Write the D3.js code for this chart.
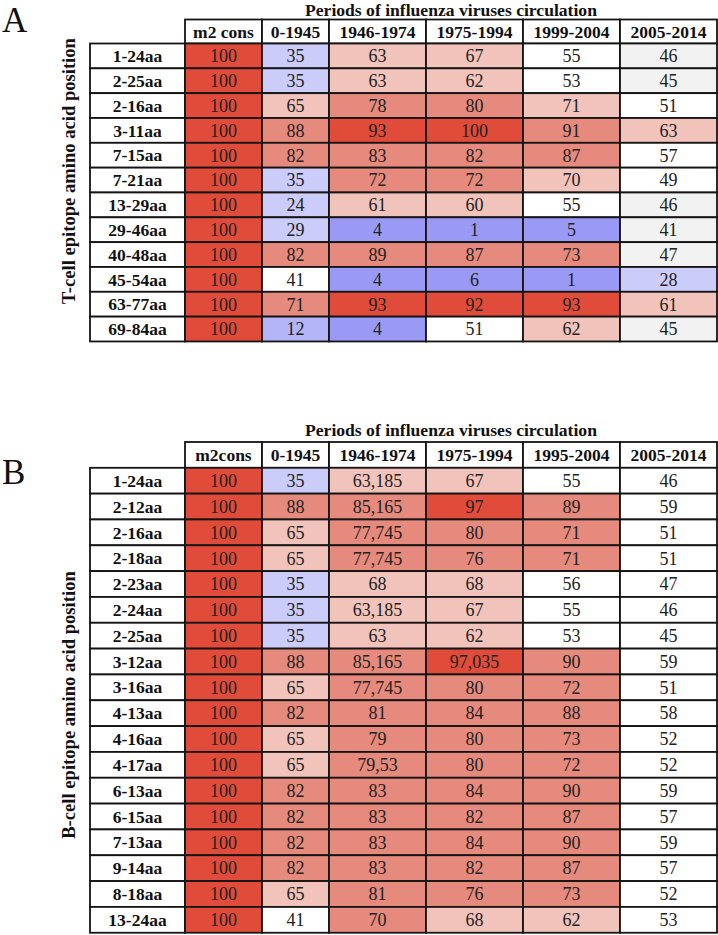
<!DOCTYPE html>
<html>
<head>
<meta charset="utf-8">
<script src="https://cdn.jsdelivr.net/npm/d3@7"></script>
<style>
  html, body { margin: 0; padding: 0; background: #fff; }
  svg { display: block; }
  text { font-family: "Liberation Serif", "Times New Roman", serif; }
</style>
</head>
<body>
<svg id="chart" width="718" height="935"></svg>
<script>
// ---------------- DATA ----------------
const periodTitle = "Periods of influenza viruses circulation";

// Panel A: T-cell epitopes
const tEpitopes = ["1-24aa","2-25aa","2-16aa","3-11aa","7-15aa","7-21aa","13-29aa","29-46aa","40-48aa","45-54aa","63-77aa","69-84aa"];
const tColumns = ["m2 cons","0-1945","1946-1974","1975-1994","1999-2004","2005-2014"];
const tM2cons   = [100,100,100,100,100,100,100,100,100,100,100,100];
const tP0_1945  = [35,35,65,88,82,35,24,29,82,41,71,12];
const tP1946_74 = [63,63,78,93,83,72,61,4,89,4,93,4];
const tP1975_94 = [67,62,80,100,82,72,60,1,87,6,92,51];
const tP1999_04 = [55,53,71,91,87,70,55,5,73,1,93,62];
const tP2005_14 = [46,45,51,63,57,49,46,41,47,28,61,45];

// Panel B: B-cell epitopes
const bEpitopes = ["1-24aa","2-12aa","2-16aa","2-18aa","2-23aa","2-24aa","2-25aa","3-12aa","3-16aa","4-13aa","4-16aa","4-17aa","6-13aa","6-15aa","7-13aa","9-14aa","8-18aa","13-24aa"];
const bColumns = ["m2cons","0-1945","1946-1974","1975-1994","1995-2004","2005-2014"];
const bM2cons   = [100,100,100,100,100,100,100,100,100,100,100,100,100,100,100,100,100,100];
const bP0_1945  = [35,88,65,65,35,35,35,88,65,82,65,65,82,82,82,82,65,41];
const bP1946_74 = [63.185,85.165,77.745,77.745,68,63.185,63,85.165,77.745,81,79,79.53,83,83,83,83,81,70];
const bP1975_94 = [67,97,80,76,68,67,62,97.035,80,84,80,80,84,82,84,82,76,68];
const bP1995_04 = [55,89,71,71,56,55,53,90,72,88,73,72,90,87,90,87,73,62];
const bP2005_14 = [46,59,51,51,47,46,45,59,51,58,52,52,59,57,59,57,52,53];

// ---------------- STYLE / LAYOUT ----------------
const C = {
  blue: "#9a9af6", midblue: "#b4b4f8", lav: "#ccccfa", gray: "#f2f2f2", white: "#ffffff",
  light: "#f1c3bb", med: "#e58a7c", dark: "#e04b3a"
};
const defaultScale = () => d3.scaleThreshold()
  .domain([10, 20, 40, 60, 70, 92])
  .range([C.blue, C.midblue, C.lav, C.white, C.light, C.med, C.dark]);

const colWidths = [95, 77, 67, 97, 97, 97, 97]; // label col + 6 data cols
const tableLeft = 90;
const xEdges = colWidths.reduce((acc, w) => (acc.push(acc[acc.length - 1] + w), acc), [tableLeft]);

const fmt = d3.formatLocale({decimal: ",", thousands: ".", grouping: [3], currency: ["", ""]}).format("~f");

const svg = d3.select("#chart");
const FONT_VAL = 18, FONT_HEAD = 17.5, FONT_LABEL = 17.5;
const STROKE = "#141414", SW = 1.8;

function drawTable(cfg) {
  const g = svg.append("g");
  const cols = cfg.columns;
  const x = d3.scaleOrdinal().domain(["__label"].concat(cols)).range(xEdges.slice(0, 7));
  const w = d3.scaleOrdinal().domain(["__label"].concat(cols)).range(colWidths);
  const bodyTop = cfg.headerTop + cfg.headerH;
  const y = d3.scaleBand().domain(cfg.rows).range([bodyTop, bodyTop + cfg.rows.length * cfg.rowH]).padding(0);

  // panel letter
  g.append("text").attr("x", 2).attr("y", cfg.letterY)
    .attr("font-size", 35).attr("fill", "#111").text(cfg.letter);

  // title
  g.append("text").attr("x", (xEdges[1] + xEdges[7]) / 2).attr("y", cfg.headerTop - cfg.titleGap)
    .attr("text-anchor", "middle").attr("font-size", 17.6).attr("font-weight", "bold")
    .attr("fill", "#111").text(periodTitle);

  // y-axis label
  g.append("text")
    .attr("transform", `translate(75,${cfg.labelCY}) rotate(-90)`)
    .attr("text-anchor", "middle").attr("font-size", 18.6).attr("font-weight", "bold")
    .attr("fill", "#111").text(cfg.axisLabel);

  // header cells
  const head = g.append("g").selectAll("g").data(cols).join("g");
  head.append("rect")
    .attr("x", d => x(d)).attr("y", cfg.headerTop)
    .attr("width", d => w(d)).attr("height", cfg.headerH)
    .attr("fill", "#fff").attr("stroke", STROKE).attr("stroke-width", SW);
  head.append("text")
    .attr("x", d => x(d) + w(d) / 2).attr("y", cfg.headerTop + cfg.headerH / 2)
    .attr("dy", "0.35em").attr("text-anchor", "middle")
    .attr("font-size", FONT_HEAD).attr("font-weight", "bold").attr("fill", "#111")
    .text(d => d);

  // row label cells
  const rl = g.append("g").selectAll("g").data(cfg.rows).join("g");
  rl.append("rect")
    .attr("x", x("__label")).attr("y", d => y(d))
    .attr("width", w("__label")).attr("height", y.bandwidth())
    .attr("fill", "#fff").attr("stroke", STROKE).attr("stroke-width", SW);
  rl.append("text")
    .attr("x", x("__label") + w("__label") / 2).attr("y", d => y(d) + y.bandwidth() / 2)
    .attr("dy", "0.35em").attr("text-anchor", "middle")
    .attr("font-size", FONT_LABEL).attr("font-weight", "bold").attr("fill", "#111")
    .text(d => d);

  // data cells
  const cells = [];
  cols.forEach((c, ci) => {
    const scale = cfg.scales[ci] || defaultScale();
    cfg.series[ci].forEach((v, ri) => cells.push({col: c, row: cfg.rows[ri], v, color: scale(v)}));
  });
  const cg = g.append("g").selectAll("g").data(cells).join("g");
  cg.append("rect")
    .attr("x", d => x(d.col)).attr("y", d => y(d.row))
    .attr("width", d => w(d.col)).attr("height", y.bandwidth())
    .attr("fill", d => d.color).attr("stroke", STROKE).attr("stroke-width", SW);
  cg.append("text")
    .attr("x", d => x(d.col) + w(d.col) / 2).attr("y", d => y(d.row) + y.bandwidth() / 2)
    .attr("dy", "0.35em").attr("text-anchor", "middle")
    .attr("font-size", FONT_VAL).attr("fill", "#222")
    .text(d => fmt(d.v));
}

drawTable({
  letter: "A", letterY: 32, headerTop: 19.5, headerH: 24, rowH: 24.83, titleGap: 4,
  labelCY: 171, axisLabel: "T-cell epitope amino acid position",
  rows: tEpitopes, columns: tColumns,
  series: [tM2cons, tP0_1945, tP1946_74, tP1975_94, tP1999_04, tP2005_14],
  scales: [null, null, null, null,
    d3.scaleThreshold().domain([10, 20, 40, 60, 72, 92]).range([C.blue, C.midblue, C.lav, C.white, C.light, C.med, C.dark]),
    d3.scaleThreshold().domain([10, 20, 40, 48, 60, 70, 92]).range([C.blue, C.midblue, C.lav, C.gray, C.white, C.light, C.med, C.dark])]
});

drawTable({
  letter: "B", letterY: 484, headerTop: 442, headerH: 25.8, rowH: 25.83, titleGap: 6,
  labelCY: 705, axisLabel: "B-cell epitope amino acid position",
  rows: bEpitopes, columns: bColumns,
  series: [bM2cons, bP0_1945, bP1946_74, bP1975_94, bP1995_04, bP2005_14],
  scales: [null, null, null, null, null, null]
});
</script>
</body>
</html>
